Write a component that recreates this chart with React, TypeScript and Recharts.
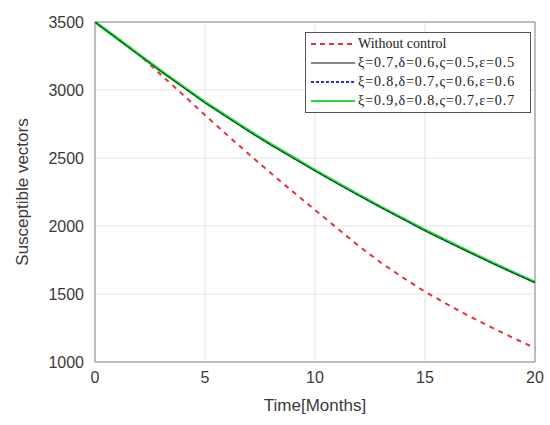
import React from "react";
import { LineChart, Line, XAxis, YAxis, CartesianGrid, ReferenceLine } from "recharts";

const months = [0, 1, 2, 3, 4, 5, 6, 7, 8, 9, 10, 11, 12, 13, 14, 15, 16, 17, 18, 19, 20];
const withoutControl = [3500, 3385, 3260, 3112, 2965, 2816, 2670, 2527, 2388, 2252, 2118, 1985, 1852, 1730, 1620, 1517, 1425, 1338, 1256, 1178, 1103];
const case1 = [3500, 3378, 3257, 3137, 3021, 2906, 2800, 2695, 2595, 2500, 2405, 2313, 2223, 2135, 2050, 1965, 1885, 1807, 1730, 1655, 1583];
const case2 = [3500, 3379, 3258, 3138, 3022, 2908, 2802, 2697, 2597, 2502, 2407, 2315, 2225, 2137, 2052, 1967, 1887, 1809, 1732, 1657, 1585];
const case3 = [3500, 3380, 3260, 3140, 3025, 2910, 2805, 2700, 2600, 2505, 2410, 2318, 2228, 2140, 2055, 1970, 1890, 1812, 1735, 1660, 1588];
const xTicks = [0, 5, 10, 15, 20];
const yTicks = [1000, 1500, 2000, 2500, 3000, 3500];
const seriesNames = [
  "Without control",
  "ξ=0.7,δ=0.6,ς=0.5,ε=0.5",
  "ξ=0.8,δ=0.7,ς=0.6,ε=0.6",
  "ξ=0.9,δ=0.8,ς=0.7,ε=0.7",
];

const data = months.map((m, i) => ({
  t: m,
  s0: withoutControl[i],
  s1: case1[i],
  s2: case2[i],
  s3: case3[i],
}));

const legendStyles = [
  { color: "#e8303a", dash: "5 4", width: 2 },
  { color: "#111111", dash: undefined, width: 1 },
  { color: "#2a2aee", dash: "3 2", width: 2 },
  { color: "#22dd33", dash: undefined, width: 2 },
];

const sans = "'Liberation Sans', Arial, sans-serif";

const LegendBox = () => (
  <div
    style={{
      position: "absolute",
      left: 305,
      top: 32,
      width: 226,
      boxSizing: "border-box",
      border: "1px solid #555",
      background: "#fff",
      padding: "1px 0 2px 4px",
      fontFamily: "'Liberation Serif', 'DejaVu Serif', serif",
      fontSize: 14,
      color: "#222",
    }}
  >
    {seriesNames.map((n, i) => (
      <div key={n} style={{ display: "flex", alignItems: "center", height: 19, whiteSpace: "nowrap" }}>
        <svg width={46} height={10} style={{ marginRight: 2, flexShrink: 0 }}>
          <line
            x1={1}
            y1={5}
            x2={45}
            y2={5}
            stroke={legendStyles[i].color}
            strokeWidth={legendStyles[i].width}
            strokeDasharray={legendStyles[i].dash}
          />
        </svg>
        <span style={{ letterSpacing: i === 0 ? 0 : 0.9 }}>{n}</span>
      </div>
    ))}
  </div>
);

export default function App() {
  return (
    <div style={{ position: "absolute", left: 0, top: 0, width: 550, height: 425, background: "#fff" }}>
      <LineChart
        width={550}
        height={425}
        data={data}
        margin={{ top: 22, right: 15, bottom: 0, left: 0 }}
      >
        <CartesianGrid stroke="#e3e3e3" strokeWidth={1} />
        <XAxis
          dataKey="t"
          type="number"
          domain={[0, 20]}
          ticks={xTicks}
          tickLine={false}
          axisLine={{ stroke: "#8a8a8a" }}
          tick={{ fill: "#3a3a3a", fontSize: 16, fontFamily: sans }}
          height={63}
          tickMargin={4}
          label={{
            value: "Time[Months]",
            position: "insideBottom",
            offset: 14,
            fill: "#3a3a3a",
            fontSize: 17,
            fontFamily: sans,
          }}
        />
        <YAxis
          type="number"
          domain={[1000, 3500]}
          ticks={yTicks}
          tickLine={false}
          axisLine={{ stroke: "#8a8a8a" }}
          tick={{ fill: "#3a3a3a", fontSize: 16, fontFamily: sans }}
          width={95}
          tickMargin={5}
          label={{
            value: "Susceptible vectors",
            angle: -90,
            position: "insideLeft",
            offset: 22,
            style: { textAnchor: "middle" },
            fill: "#3a3a3a",
            fontSize: 17,
            fontFamily: sans,
          }}
        />
        <ReferenceLine y={3500} stroke="#8a8a8a" />
        <ReferenceLine x={20} stroke="#8a8a8a" />
        <Line
          dataKey="s0"
          name={seriesNames[0]}
          stroke="#e8303a"
          strokeWidth={2}
          strokeDasharray="5 5"
          dot={false}
          isAnimationActive={false}
        />
        <Line
          dataKey="s3"
          name={seriesNames[3]}
          stroke="#22dd33"
          strokeWidth={3}
          dot={false}
          isAnimationActive={false}
        />
        <Line
          dataKey="s2"
          name={seriesNames[2]}
          stroke="#2a2aee"
          strokeWidth={1}
          strokeDasharray="3 3"
          dot={false}
          isAnimationActive={false}
        />
        <Line
          dataKey="s1"
          name={seriesNames[1]}
          stroke="#1a3a1a"
          strokeWidth={1}
          dot={false}
          isAnimationActive={false}
        />
      </LineChart>
      <LegendBox />
    </div>
  );
}
